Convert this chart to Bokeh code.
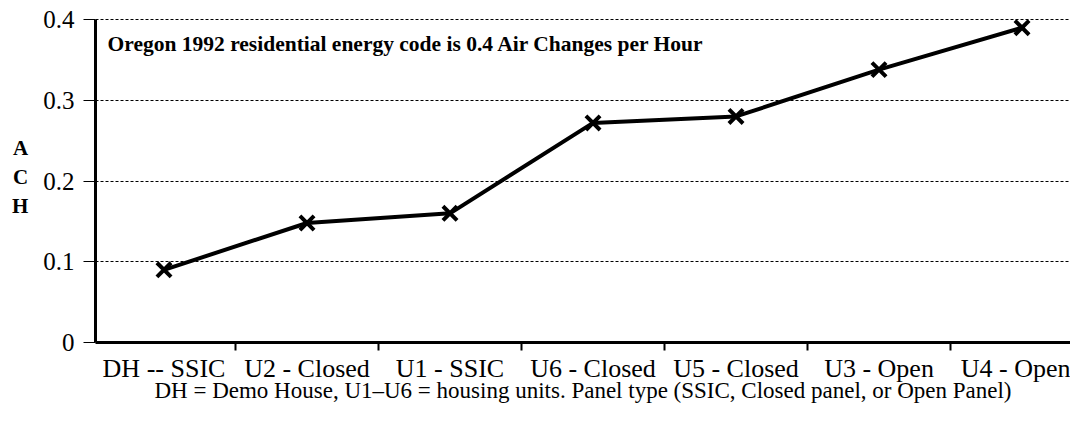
from bokeh.plotting import figure
from bokeh.models import FixedTicker, Range1d, Label
from bokeh.embed import file_html
from bokeh.resources import INLINE

categories = ["DH -- SSIC", "U2 - Closed", "U1 - SSIC", "U6 - Closed", "U5 - Closed", "U3 - Open", "U4 - Open"]
ach_values = [0.090, 0.148, 0.160, 0.272, 0.280, 0.338, 0.390]
y_ticks = [0, 0.1, 0.2, 0.3, 0.4]
y_tick_labels = ["0", "0.1", "0.2", "0.3", "0.4"]
note_text = "Oregon 1992 residential energy code is 0.4 Air Changes per Hour"
x_title = "DH = Demo House, U1\u2013U6 = housing units. Panel type (SSIC, Closed panel, or Open Panel)"
y_title = "A\nC\nH"

FONT = "Liberation Serif"
xs = list(range(len(categories)))

p = figure(width=1070, height=405, output_backend="svg", toolbar_location=None,
           x_range=Range1d(-0.479, 6.339), y_range=Range1d(0, 0.41),
           min_border_left=95, min_border_right=0, min_border_top=11, min_border_bottom=10)
p.outline_line_color = None
p.background_fill_color = "white"

# grid
p.xgrid.grid_line_color = None
p.ygrid.ticker = FixedTicker(ticks=y_ticks[1:])
p.ygrid.grid_line_color = "black"
p.ygrid.grid_line_width = 1
p.ygrid.grid_line_dash = "3 2"

# y axis
p.yaxis.ticker = FixedTicker(ticks=y_ticks)
p.yaxis.major_label_overrides = {t: l for t, l in zip(y_ticks, y_tick_labels)}
p.yaxis.bounds = (0, 0.4)
p.yaxis.axis_line_width = 3
p.yaxis.axis_line_color = "black"
p.yaxis.major_tick_out = 12
p.yaxis.major_tick_in = 0
p.yaxis.major_tick_line_width = 1
p.yaxis.minor_tick_line_color = None
p.yaxis.major_label_text_font = FONT
p.yaxis.major_label_text_font_size = "25px"
p.yaxis.major_label_text_font_style = "normal"
p.yaxis.major_label_text_color = "black"
p.yaxis.major_label_standoff = 9
p.yaxis.axis_label = y_title
p.yaxis.axis_label_orientation = "horizontal"
p.yaxis.axis_label_text_font = FONT
p.yaxis.axis_label_text_font_size = "21px"
p.yaxis.axis_label_text_font_style = "bold"
p.yaxis.axis_label_text_color = "black"
p.yaxis.axis_label_standoff = 12

# x axis
boundaries = [i + 0.5 for i in xs[:-1]]
p.xaxis.ticker = FixedTicker(ticks=xs, minor_ticks=boundaries)
p.xaxis.major_label_overrides = {i: c for i, c in zip(xs, categories)}
p.xaxis.axis_line_width = 3
p.xaxis.axis_line_color = "black"
p.xaxis.major_tick_out = 0
p.xaxis.major_tick_in = 0
p.xaxis.minor_tick_out = 8
p.xaxis.minor_tick_in = 0
p.xaxis.minor_tick_line_width = 2
p.xaxis.minor_tick_line_color = "black"
p.xaxis.major_label_text_font = FONT
p.xaxis.major_label_text_font_size = "26px"
p.xaxis.major_label_text_color = "black"
p.xaxis.major_label_standoff = 3
p.xaxis.axis_label = x_title
p.xaxis.axis_label_text_font = FONT
p.xaxis.axis_label_text_font_size = "23px"
p.xaxis.axis_label_text_font_style = "normal"
p.xaxis.axis_label_text_color = "black"
p.xaxis.axis_label_standoff = -8

# data
p.line(xs, ach_values, line_color="black", line_width=4)
p.scatter(xs, ach_values, marker="x", size=20, line_color="black", line_width=4)

p.add_layout(Label(x=-0.395, y=0.37, text=note_text, text_font=FONT,
                   text_font_size="21.5px", text_font_style="bold", text_color="black",
                   text_baseline="alphabetic"))

open("out.html", "w").write(file_html(p, INLINE))
